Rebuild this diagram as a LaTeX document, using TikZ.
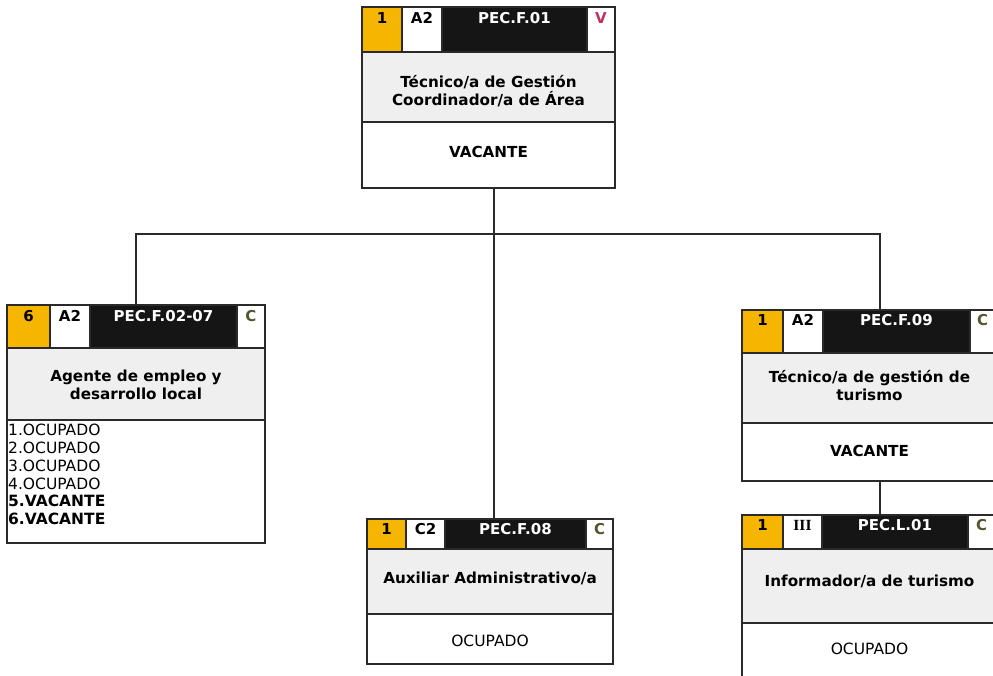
\documentclass[tikz,border=0pt]{standalone}
\usepackage{fontspec}
\setmainfont{DejaVu Sans}
\newfontfamily\romana{Liberation Serif}
\definecolor{naranja}{HTML}{F6B500}
\definecolor{negro}{HTML}{151515}
\definecolor{gris}{HTML}{EFEFEF}
\definecolor{borde}{HTML}{2A2A2A}
\definecolor{oliva}{HTML}{55552E}
\definecolor{carmin}{HTML}{C2305E}

% one rectangular cell given by its corners (x in pt to the right, y in pt downwards)
\newcommand\celda[6]{%
  \pgfmathsetmacro\cw{#4-#2}\pgfmathsetmacro\ch{#5-#3}%
  \node[#6, minimum width=\cw pt, minimum height=\ch pt] (#1) at (#2,#3) {};}

\tikzset{
  cell/.style={draw=borde, line width=1.3pt, inner sep=0pt, outer sep=0pt, anchor=north west},
  numcell/.style={cell, fill=naranja},
  grpcell/.style={cell, fill=white},
  codecell/.style={cell, fill=negro},
  statcell/.style={cell, fill=white},
  titlecell/.style={cell, fill=gris},
  lowercell/.style={cell, fill=white},
  frame/.style={draw=borde, line width=1.3pt, inner sep=0pt, outer sep=0pt, anchor=north west},
  htxt/.style={anchor=base, inner sep=0pt, font=\bfseries\fontsize{15}{18}\selectfont},
  ttxt/.style={align=center, inner sep=0pt, font=\bfseries\fontsize{15.2}{18}\selectfont},
  ltxt/.style={inner sep=0pt, font=\fontsize{15.5}{18}\selectfont},
  link/.style={draw=borde, line width=1.6pt}
}

\begin{document}
\begin{tikzpicture}[x=1pt, y=-1pt]
\useasboundingbox (0,0) rectangle (993,676);
\clip (0,0) rectangle (993,676);

% ---------- PEC.F.01 ----------
\celda{top-n}{362}{7}{402}{52}{numcell}
\celda{top-g}{402}{7}{442}{52}{grpcell}
\celda{top-c}{442}{7}{587}{52}{codecell}
\celda{top-s}{587}{7}{615}{52}{statcell}
\celda{top-t}{362}{52}{615}{122}{titlecell}
\celda{top-l}{362}{122}{615}{188}{lowercell}
\celda{top}{362}{7}{615}{188}{frame}
\node[htxt] (top-nt) at ([yshift=-17pt]top-n.north) {1};
\node[htxt] (top-gt) at ([yshift=-17pt]top-g.north) {A2};
\node[htxt, text=white] (top-ct) at ([yshift=-17pt]top-c.north) {PEC.F.01};
\node[htxt, text=carmin] (top-st) at ([yshift=-17pt]top-s.north) {V};
\node[ttxt] (top-tt) at ([yshift=-4pt]top-t.center) {Técnico/a de Gestión\\Coordinador/a de Área};
\node[ttxt] (top-lt) at ([yshift=3pt]top-l.center) {VACANTE};

% ---------- PEC.F.02-07 ----------
\celda{left-n}{7}{305}{50}{348}{numcell}
\celda{left-g}{50}{305}{90}{348}{grpcell}
\celda{left-c}{90}{305}{237}{348}{codecell}
\celda{left-s}{237}{305}{265}{348}{statcell}
\celda{left-t}{7}{348}{265}{420}{titlecell}
\celda{left-l}{7}{420}{265}{543}{lowercell}
\celda{left}{7}{305}{265}{543}{frame}
\node[htxt] (left-nt) at ([yshift=-16pt]left-n.north) {6};
\node[htxt] (left-gt) at ([yshift=-16pt]left-g.north) {A2};
\node[htxt, text=white] (left-ct) at ([yshift=-16pt]left-c.north) {PEC.F.02-07};
\node[htxt, text=oliva] (left-st) at ([yshift=-16pt]left-s.north) {C};
\node[ttxt] (left-tt) at ([yshift=-1pt]left-t.center) {Agente de empleo y\\desarrollo local};
\node[ltxt, anchor=north west, align=left, font=\fontsize{15.5}{17.8}\selectfont] (left-lt) at (8,424)
  {1.OCUPADO\\2.OCUPADO\\3.OCUPADO\\4.OCUPADO\\\textbf{5.VACANTE}\\\textbf{6.VACANTE}};

% ---------- PEC.F.08 ----------
\celda{mid-n}{367}{519}{406}{549}{numcell}
\celda{mid-g}{406}{519}{445}{549}{grpcell}
\celda{mid-c}{445}{519}{586}{549}{codecell}
\celda{mid-s}{586}{519}{613}{549}{statcell}
\celda{mid-t}{367}{549}{613}{614}{titlecell}
\celda{mid-l}{367}{614}{613}{664}{lowercell}
\celda{mid}{367}{519}{613}{664}{frame}
\node[htxt] (mid-nt) at ([yshift=-15.5pt]mid-n.north) {1};
\node[htxt] (mid-gt) at ([yshift=-15.5pt]mid-g.north) {C2};
\node[htxt, text=white] (mid-ct) at ([yshift=-15.5pt]mid-c.north) {PEC.F.08};
\node[htxt, text=oliva] (mid-st) at ([yshift=-15.5pt]mid-s.north) {C};
\node[ttxt] (mid-tt) at ([yshift=3pt]mid-t.center) {Auxiliar Administrativo/a};
\node[ltxt] (mid-lt) at ([yshift=-2pt]mid-l.center) {OCUPADO};

% ---------- PEC.F.09 ----------
\celda{rone-n}{742}{310}{783}{353}{numcell}
\celda{rone-g}{783}{310}{823}{353}{grpcell}
\celda{rone-c}{823}{310}{970}{353}{codecell}
\celda{rone-s}{970}{310}{997}{353}{statcell}
\celda{rone-t}{742}{353}{997}{423}{titlecell}
\celda{rone-l}{742}{423}{997}{481}{lowercell}
\celda{rone}{742}{310}{997}{481}{frame}
\node[htxt] (rone-nt) at ([yshift=-16pt]rone-n.north) {1};
\node[htxt] (rone-gt) at ([yshift=-16pt]rone-g.north) {A2};
\node[htxt, text=white] (rone-ct) at ([yshift=-16pt]rone-c.north) {PEC.F.09};
\node[htxt, text=oliva] (rone-st) at ([yshift=-16pt,xshift=-1pt]rone-s.north) {C};
\node[ttxt] (rone-tt) at ([yshift=2pt]rone-t.center) {Técnico/a de gestión de\\turismo};
\node[ttxt] (rone-lt) at ([yshift=1pt]rone-l.center) {VACANTE};

% ---------- PEC.L.01 ----------
\celda{rtwo-n}{742}{515}{783}{549}{numcell}
\celda{rtwo-g}{783}{515}{822}{549}{grpcell}
\celda{rtwo-c}{822}{515}{968}{549}{codecell}
\celda{rtwo-s}{968}{515}{997}{549}{statcell}
\celda{rtwo-t}{742}{549}{997}{623}{titlecell}
\celda{rtwo-l}{742}{623}{997}{682}{lowercell}
\celda{rtwo}{742}{515}{997}{682}{frame}
\node[htxt] (rtwo-nt) at ([yshift=-15pt]rtwo-n.north) {1};
\node[htxt, font=\romana\bfseries\fontsize{15.5}{18}\selectfont] (rtwo-gt) at ([yshift=-15pt]rtwo-g.north) {III};
\node[htxt, text=white] (rtwo-ct) at ([yshift=-15pt]rtwo-c.north) {PEC.L.01};
\node[htxt, text=oliva] (rtwo-st) at ([yshift=-15pt,xshift=-1pt]rtwo-s.north) {C};
\node[ttxt] (rtwo-tt) at ([yshift=5pt]rtwo-t.center) {Informador/a de turismo};
\node[ltxt] (rtwo-lt) at ([yshift=4pt]rtwo-l.center) {OCUPADO};

% ---------- connectors ----------
\coordinate (bus) at (494,234);
\coordinate (rjoin) at (880,234);
\draw[link] (top.south -| bus) -- (bus);
\draw[link] (bus) -| (left.north);
\draw[link] (bus) -- (bus |- mid.north);
\draw[link] (bus) -- (rjoin) -- (rjoin |- rone.north);
\draw[link] (rone.south -| rjoin) -- (rtwo.north -| rjoin);
\end{tikzpicture}
\end{document}
